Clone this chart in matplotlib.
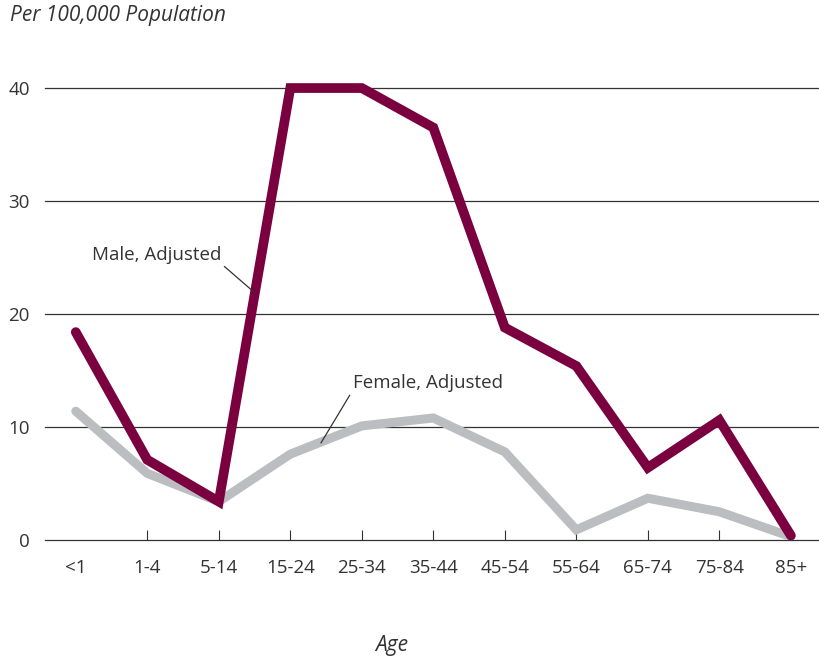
import matplotlib.pyplot as plt

plt.rcParams['font.family'] = ['Open Sans', 'DejaVu Sans']

ages = ['<1', '1-4', '5-14', '15-24', '25-34', '35-44', '45-54', '55-64', '65-74', '75-84', '85+']
male = [18.4, 7.1, 3.4, 40.0, 40.0, 36.5, 18.8, 15.4, 6.4, 10.6, 0.4]
female = [11.4, 5.9, 3.4, 7.6, 10.1, 10.8, 7.8, 0.9, 3.7, 2.5, 0.3]
yticks = [0, 10, 20, 30, 40]

text_c = '#333333'
male_c = '#7a003f'
female_c = '#bcbdc0'

fig = plt.figure(figsize=(8.2, 6.58), dpi=100)
ax = fig.add_axes([0.0549, 0.1793, 0.9427, 0.7295])

x = list(range(len(ages)))
ax.plot(x, female, color=female_c, lw=6.5, solid_capstyle='round', solid_joinstyle='miter', zorder=3)
ax.plot(x, male, color=male_c, lw=7, solid_capstyle='round', solid_joinstyle='miter', zorder=4)

ax.set_xlim(-0.43, 10.38)
ax.set_ylim(0, 42.48)

# horizontal grid
for v in yticks:
    ax.axhline(v, color=text_c, lw=0.9, zorder=1, clip_on=False)

for s in ax.spines.values():
    s.set_visible(False)

ax.set_xticks(x)
ax.set_xticklabels(ages, fontsize=13.5, color=text_c)
ax.tick_params(axis='x', direction='in', length=7.2, width=0.8, color=text_c, pad=14)
ticks = ax.xaxis.get_major_ticks()
ticks[0].tick1line.set_visible(False)
ticks[-1].tick1line.set_visible(False)

ax.set_yticks(yticks)
ax.set_yticklabels([str(v) for v in yticks], fontsize=13.5, color=text_c)
ax.tick_params(axis='y', length=0, pad=11)

# labels with leader lines
ax.text(2.04, 25.2, 'Male, Adjusted', fontsize=13.5, color=text_c, ha='right', va='center')
ax.plot([2.08, 2.50], [24.2, 21.9], color=text_c, lw=0.9, zorder=5)
ax.text(3.87, 13.9, 'Female, Adjusted', fontsize=13.5, color=text_c, ha='left', va='center')
ax.plot([3.83, 3.43], [12.8, 8.6], color=text_c, lw=0.9, zorder=5)

fig.text(10 / 820, 1 - 16 / 658, 'Per 100,000 Population', fontsize=15, style='italic',
         color=text_c, ha='left', va='center')
fig.text(392 / 820, 1 - 645 / 658, 'Age', fontsize=15, style='italic',
         color=text_c, ha='center', va='center')

fig.savefig('out.png', dpi=100)
